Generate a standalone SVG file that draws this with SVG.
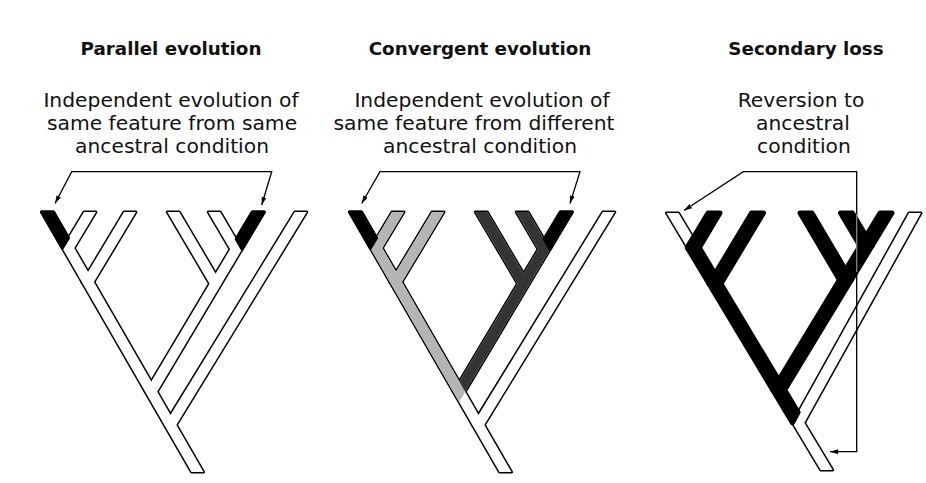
<svg xmlns="http://www.w3.org/2000/svg" xmlns:xlink="http://www.w3.org/1999/xlink" width="926" height="483" viewBox="0 0 926 483">
<style>
.o{fill:none;stroke:#000;stroke-width:3;stroke-linejoin:round}
.w{fill:#fff;stroke:none}
.k{fill:#000;stroke:#000;stroke-width:3;stroke-linejoin:round}
.k5{fill:#000;stroke:#000;stroke-width:5;stroke-linejoin:round}
.g{fill:#b5b5b5;stroke:none}
.d{fill:#343434;stroke:none}
.t{font-family:"DejaVu Sans","Liberation Sans",sans-serif;text-anchor:middle;fill:#111}
.ti{font-weight:bold;font-size:18.3px}
.b{font-size:20.3px}
.c{fill:none;stroke:#000;stroke-width:1.3;stroke-linejoin:miter}
</style>
<defs>
<marker id="ah" viewBox="0 0 10 6" refX="10" refY="3" markerWidth="8" markerHeight="5" markerUnits="userSpaceOnUse" orient="auto-start-reverse"><path d="M0,0 L10,3 L0,6 z" fill="#000"/></marker>
<g id="tree1">
<polygon id="a1" points="41.5,212 53.5,212 203.5,472 191.5,472"/>
<polygon id="a2" points="84,212 96,212 74.3,248.1 62.3,248.1"/>
<polygon id="a3" points="124,212 136,212 93.9,282.1 81.9,282.1"/>
<polygon id="aS" points="252.3,212 264.3,212 157.2,391.7 145.2,391.7"/>
<polygon id="a4" points="167.3,212 179.3,212 221.6,283.7 209.6,283.7"/>
<polygon id="a5" points="208.2,212 220.2,212 242.1,249.2 230.1,249.2"/>
<polygon id="aB" points="294.8,212 306.8,212 176.3,424.9 164.3,424.9"/>
</g>
<polygon id="tipL" points="41.5,212 53.5,212 68.5,237.9 62.3,248.1"/>
<polygon id="tipR" points="252.3,212 264.3,212 242.1,249.2 236.2,239.1"/>
<g id="tree3">
<polygon id="c1" points="666.5,213 678.5,213 832.7,470 820.7,470"/>
<polygon id="c2" points="708,213 720,213 699.3,247.6 687.3,247.6"/>
<polygon id="c3" points="751.5,213 763.5,213 721,283.8 709,283.8"/>
<polygon id="cS" points="880,213 892,213 784.7,390 772.7,390"/>
<polygon id="c4" points="800,213 812,213 851.5,279.9 839.5,279.9"/>
<polygon id="c5" points="840.5,213 852.5,213 872,246 860,246"/>
<polygon id="cB" points="909,213 921,213 804.4,422.8 792.4,422.8"/>
</g>
</defs>
<rect width="926" height="483" fill="#fff"/>

<g id="panel-parallel">
<use xlink:href="#tree1" class="o"/>
<use xlink:href="#tree1" class="w"/>
<use xlink:href="#tipL" class="k"/>
<use xlink:href="#tipR" class="k"/>
</g>

<g id="panel-convergent">
<use xlink:href="#tree1" x="308" class="o"/>
<use xlink:href="#tree1" x="308" class="w"/>
<use xlink:href="#aS" x="308" class="d"/>
<use xlink:href="#a4" x="308" class="d"/>
<use xlink:href="#a5" x="308" class="d"/>
<use xlink:href="#a2" x="308" class="g"/>
<use xlink:href="#a3" x="308" class="g"/>
<polygon class="g" points="376.5,237.9 465.2,391.7 459.1,401.9 370.3,248.1"/>
<use xlink:href="#tipL" x="308" class="k"/>
<use xlink:href="#tipR" x="308" class="k"/>
</g>

<g id="panel-secondary-loss">
<use xlink:href="#tree3" class="o"/>
<use xlink:href="#tree3" class="w"/>
<use xlink:href="#cS" class="k5"/>
<use xlink:href="#c2" class="k5"/>
<use xlink:href="#c3" class="k5"/>
<use xlink:href="#c4" class="k5"/>
<use xlink:href="#c5" class="k5"/>
<polygon class="k5" points="693.3,237.6 798.1,412.4 792.4,422.8 687.3,247.6"/>
</g>

<g id="connectors">
<path class="c" d="M55,203.5 L71.7,171.7 L271.7,171.7 L261.7,205" marker-start="url(#ah)" marker-end="url(#ah)"/>
<path class="c" d="M361.7,203.5 L380,171.7 L580,171.7 L570,203.5" marker-start="url(#ah)" marker-end="url(#ah)"/>
<path class="c" d="M684,210.5 L743.3,171.7 L856.7,171.7 L856.7,451.7 L830,451.7" marker-start="url(#ah)" marker-end="url(#ah)"/>
<line x1="856.7" y1="214" x2="856.7" y2="272" stroke="#8c8c8c" stroke-width="1.2"/>
</g>

<g id="label-parallel" class="t">
<text class="ti" x="171" y="55">Parallel evolution</text>
<text class="b" x="171" y="107">Independent evolution of</text>
<text class="b" x="172" y="130">same feature from same</text>
<text class="b" x="172" y="153">ancestral condition</text>
</g>
<g id="label-convergent" class="t">
<text class="ti" x="480" y="55">Convergent evolution</text>
<text class="b" x="482" y="107">Independent evolution of</text>
<text class="b" x="474" y="130">same feature from different</text>
<text class="b" x="480" y="153">ancestral condition</text>
</g>
<g id="label-secondary" class="t">
<text class="ti" x="806" y="55">Secondary loss</text>
<text class="b" x="801" y="107">Reversion to</text>
<text class="b" x="803" y="130">ancestral</text>
<text class="b" x="804" y="153">condition</text>
</g>
</svg>
